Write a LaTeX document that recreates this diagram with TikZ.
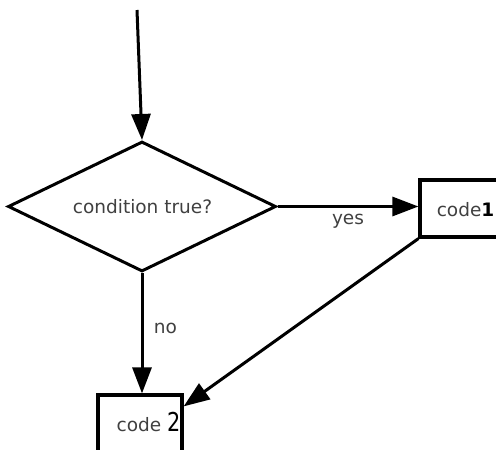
\documentclass[tikz,border=0pt]{standalone}
\usepackage{fontspec}
\usepackage{graphicx}
\setmainfont{DejaVu Sans}
\usetikzlibrary{arrows.meta,shapes.geometric,calc}
\tikzset{
  conn/.style={line width=3pt,-{Triangle[length=26pt,width=19pt]}},
  decision/.style={diamond,draw,line width=3pt,inner sep=0pt,aspect=2,minimum width=268pt,minimum height=130pt},
  codebox/.style={rectangle,draw,line width=3.2pt,inner sep=0pt,minimum width=84pt},
  txt/.style={text=black!75,font=\fontsize{18.5}{20}\selectfont,inner sep=0pt,anchor=base}
}
\begin{document}
\begin{tikzpicture}[x=1pt,y=1pt]
\useasboundingbox (0,0) rectangle (496,-450);
\clip (0,0) rectangle (496,-450);
\node[decision] (d) at (142,-206.5) {};
\node[txt] (dt) at (142.5,-213) {condition true?};
\node[codebox,minimum height=57pt] (c1) at (462,-208.5) {};
\node[txt] (c1t) at (465.5,-216) {code\textbf{\textcolor{black}{1}}};
\node[codebox,minimum height=85pt] (c2) at (140,-437.5) {};
\node[txt] (c2t) at (148.5,-431) {code \textcolor{black}{\scalebox{0.8}[1]{\fontsize{26}{26}\selectfont 2}}};
\coordinate (start) at (137,-10);
\draw[conn] (start) -- (d.north);
\draw[conn] (d.east) -- (d.east -| c1.west);
\node[txt] (yes) at (348,-224) {yes};
\draw[conn] (d.south) -- (d.south |- c2.north);
\node[txt] (no) at (165.5,-333) {no};
\draw[conn] (c1.south west) -- (c2);
\end{tikzpicture}
\end{document}
